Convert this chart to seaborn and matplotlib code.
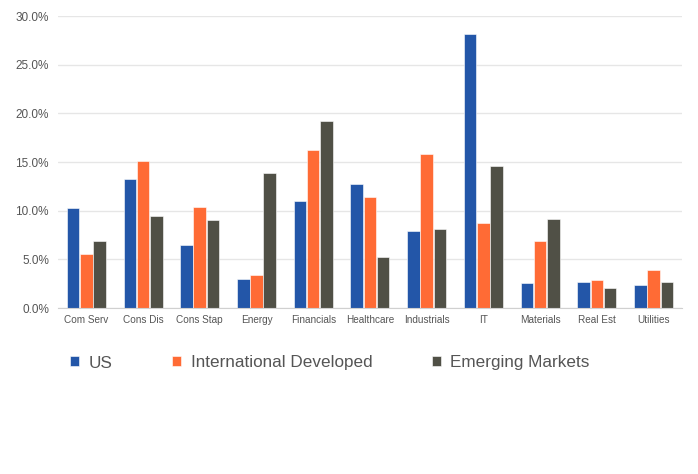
import matplotlib
matplotlib.use("Agg")
from matplotlib import pyplot as plt
from matplotlib.ticker import FuncFormatter
import pandas as pd
import seaborn as sns

# sector weights (%)
sectors = ["Com Serv", "Cons Dis", "Cons Stap", "Energy", "Financials",
           "Healthcare", "Industrials", "IT", "Materials", "Real Est", "Utilities"]
us = [10.3, 13.3, 6.5, 3.0, 11.0, 12.7, 7.9, 28.2, 2.6, 2.7, 2.4]
intl_dev = [5.6, 15.1, 10.4, 3.4, 16.2, 11.4, 15.8, 8.7, 6.9, 2.9, 3.9]
emerging = [6.9, 9.5, 9.1, 13.9, 19.2, 5.2, 8.1, 14.6, 9.2, 2.1, 2.7]

series = ["US", "International Developed", "Emerging Markets"]
colors = ["#2356A8", "#FF6B35", "#505046"]

df = pd.DataFrame({"sector": sectors, series[0]: us,
                   series[1]: intl_dev, series[2]: emerging})
df = df.melt(id_vars="sector", var_name="region", value_name="weight")

sns.set_style("white")
plt.rcParams['font.family'] = ['Liberation Sans', 'DejaVu Sans']

fig = plt.figure(figsize=(6.98, 4.74), dpi=100)
ax = fig.add_axes([0.083, 0.350, 0.894, 0.616])

sns.barplot(data=df, x="sector", y="weight", hue="region", hue_order=series,
            palette=colors, width=0.7, gap=0.05, saturation=1,
            edgecolor="white", linewidth=0.4, ax=ax)

ax.set_ylim(0, 30)
ax.set_yticks(range(0, 31, 5))
ax.yaxis.set_major_formatter(FuncFormatter(lambda v, p: "{:.1f}%".format(v)))
ax.grid(axis="y", color="#E6E6E6", linewidth=1)
ax.set_axisbelow(True)
for s in ["left", "right", "top"]:
    ax.spines[s].set_visible(False)
ax.spines["bottom"].set_color("#D0D0D0")
ax.tick_params(axis="y", length=0, labelsize=8.5, colors="#555555", pad=6.5)
ax.tick_params(axis="x", length=0, labelsize=7.2, colors="#555555", pad=5)
ax.set_xlabel("")
ax.set_ylabel("")

handles, labels = ax.get_legend_handles_labels()
ax.get_legend().remove()
fig.legend(handles, labels, loc="center left",
           bbox_to_anchor=(70 / 698, 1 - 363 / 474), ncol=3, frameon=False,
           fontsize=12.3, labelcolor="#555555", handlelength=0.53,
           handleheight=0.53, handletextpad=0.55, columnspacing=3.5,
           borderpad=0, borderaxespad=0)

plt.savefig("out.png", dpi=100)
